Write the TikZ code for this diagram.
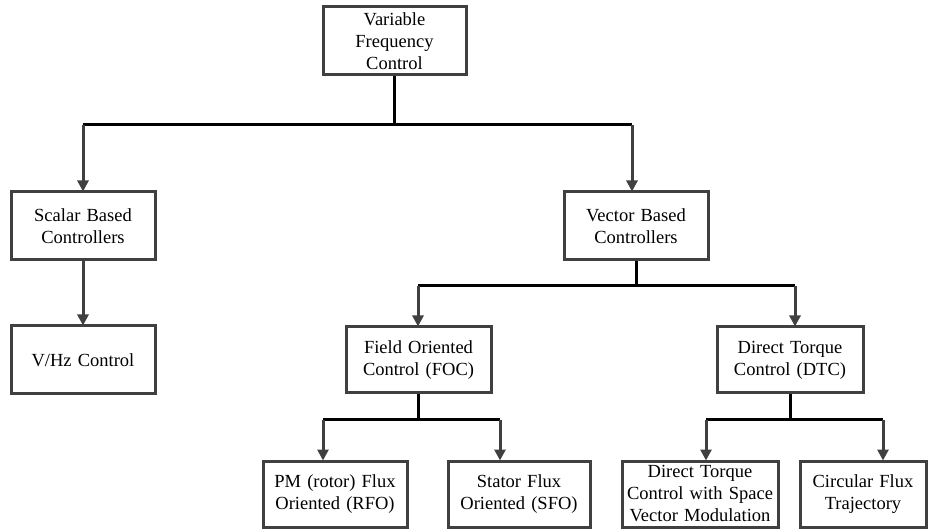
\documentclass[tikz,border=0pt]{standalone}
\usepackage{fontspec}
\setmainfont{Liberation Serif}
\usetikzlibrary{arrows.meta}
\definecolor{edge}{HTML}{404040}
\tikzset{
  box/.style={draw=edge, line width=3pt, fill=white, align=center,
    inner sep=0pt, minimum height=68pt, text width=#1, minimum width=#1,
    font=\fontsize{18.5}{22}\selectfont},
  box/.default=144pt,
  bus/.style={draw=black, line width=3pt},
  feed/.style={draw=edge, line width=3pt, -{Triangle[length=11pt,width=11pt]}, shorten >=-1pt},
}
\begin{document}
\begin{tikzpicture}[x=1pt,y=-1pt]
\useasboundingbox (0,0) rectangle (935,529);

% boxes
\node[box=143pt] (vfc) at (394.5,41) {Variable\\Frequency\\Control};
\node[box] (scalar) at (83,226) {Scalar Based\\Controllers};
\node[box] (vector) at (636,226) {Vector Based\\Controllers};
\node[box] (vhz) at (83,360) {V/Hz Control};
\node[box=145pt, minimum height=66pt] (foc) at (418.5,360) {Field Oriented\\Control (FOC)};
\node[box=146pt, minimum height=66pt] (dtc) at (790,360) {Direct Torque\\Control (DTC)};
\node[box, minimum height=66pt] (rfo) at (335,494) {PM (rotor) Flux\\Oriented (RFO)};
\node[box=142pt, minimum height=66pt] (sfo) at (519,494) {Stator Flux\\Oriented (SFO)};
\node[box=156pt, minimum height=66pt] (svm) at (700,494) {Direct Torque\\Control with Space\\Vector Modulation};
\node[box=126pt, minimum height=66pt] (cft) at (863,494) {Circular Flux\\Trajectory};

% bus end points
\coordinate (b1l) at (83,125);
\coordinate (b1r) at (632,125);
\coordinate (b2l) at (418,286);
\coordinate (b2r) at (795,286);
\coordinate (b3l) at (323,420);
\coordinate (b3r) at (500,420);
\coordinate (b4l) at (706,420);
\coordinate (b4r) at (883,420);

% level 1
\draw[bus] (vfc.south) -- (vfc.south |- b1l);
\draw[bus] (b1l) -- (b1r);
\draw[feed] (b1l) -- (b1l |- scalar.north);
\draw[feed] (b1r) -- (b1r |- vector.north);

% scalar branch
\draw[feed] (scalar.south) -- (vhz.north);

% vector branch
\draw[bus] (vector.south) -- (vector.south |- b2l);
\draw[bus] (b2l) -- (b2r);
\draw[feed] (b2l) -- (b2l |- foc.north);
\draw[feed] (b2r) -- (b2r |- dtc.north);

% FOC branch
\draw[bus] (foc.south) -- (foc.south |- b3l);
\draw[bus] (b3l) -- (b3r);
\draw[feed] (b3l) -- (b3l |- rfo.north);
\draw[feed] (b3r) -- (b3r |- sfo.north);

% DTC branch
\draw[bus] (dtc.south) -- (dtc.south |- b4l);
\draw[bus] (b4l) -- (b4r);
\draw[feed] (b4l) -- (b4l |- svm.north);
\draw[feed] (b4r) -- (b4r |- cft.north);
\end{tikzpicture}
\end{document}
